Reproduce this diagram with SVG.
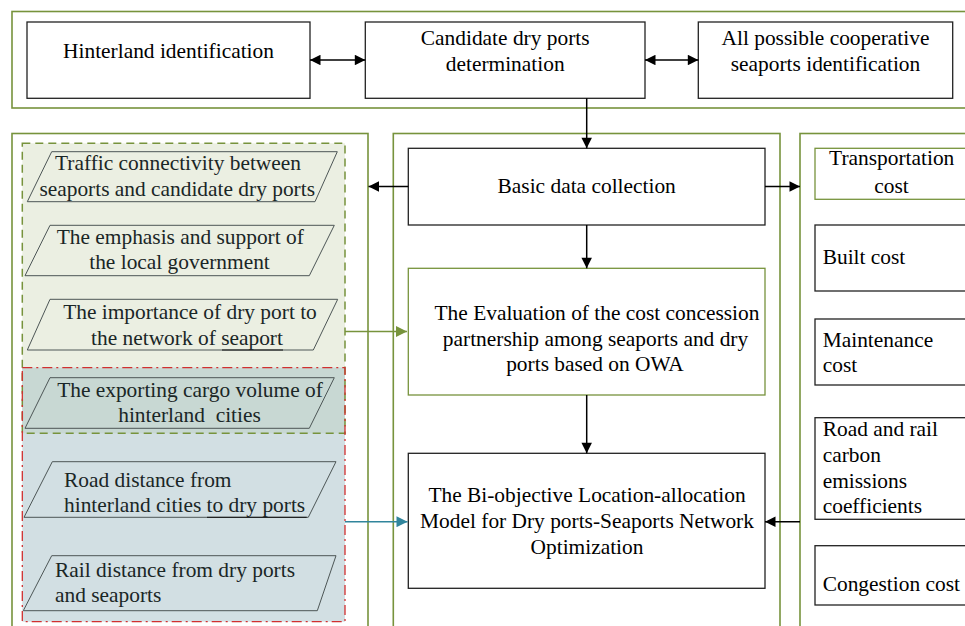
<svg xmlns="http://www.w3.org/2000/svg" width="965" height="626" viewBox="0 0 965 626">
<style>
text{font-family:"Liberation Serif","Times New Roman",serif;font-size:21.4px;fill:#000}
.c{text-anchor:middle}
.pt{fill:#1a2626}
.frame{fill:none;stroke:#77933c;stroke-width:1.6}
.box{fill:#fff;stroke:#222;stroke-width:1.3}
.gbox{fill:#fff;stroke:#77933c;stroke-width:1.3}
.para{fill:none;stroke:#4d5656;stroke-width:1}
.ln{fill:none;stroke:#000;stroke-width:1.5}
</style>
<defs>
<marker id="ab" viewBox="0 0 10 10" refX="10" refY="5" markerWidth="15" markerHeight="10.5" markerUnits="userSpaceOnUse" orient="auto-start-reverse"><path d="M0,0L10,5L0,10z" fill="#000"/></marker>
<marker id="ag" viewBox="0 0 10 10" refX="10" refY="5" markerWidth="16" markerHeight="11" markerUnits="userSpaceOnUse" orient="auto"><path d="M0,0L10,5L0,10z" fill="#77933c"/></marker>
<marker id="at" viewBox="0 0 10 10" refX="10" refY="5" markerWidth="16" markerHeight="11" markerUnits="userSpaceOnUse" orient="auto"><path d="M0,0L10,5L0,10z" fill="#31859c"/></marker>
</defs>
<rect width="965" height="626" fill="#fff"/>

<!-- frames -->
<g id="frames">
<rect class="frame" x="12" y="11.5" width="960" height="96.5"/>
<rect class="frame" x="12" y="133.5" width="356" height="500"/>
<rect class="frame" x="393.3" y="133.5" width="386.7" height="500"/>
<rect class="frame" x="800" y="133.5" width="180" height="500"/>
</g>

<!-- left regions -->
<g id="regions">
<rect x="22.3" y="143.3" width="322.7" height="290" fill="#ebefe2"/>
<rect x="22.3" y="367.7" width="322.7" height="254" fill="#d2dfe3"/>
<rect x="22.3" y="367.7" width="322.7" height="65.6" fill="#c8d8d3"/>
<rect x="22.3" y="143.3" width="322.7" height="290" fill="none" stroke="#77933c" stroke-width="1.5" stroke-dasharray="8,5"/>
<rect x="22.3" y="367.7" width="322.7" height="254" fill="none" stroke="#d03030" stroke-width="1.3" stroke-dasharray="10,4,2,4"/>
</g>

<g id="n-hinterland">
<rect class="box" x="27" y="22" width="283" height="76.3"/>
<text class="c" x="168.5" y="58.3">Hinterland identification</text>
</g>
<g id="n-candidate">
<rect class="box" x="365.3" y="22" width="279.7" height="76.3"/>
<text class="c" x="505.2" y="44.5">Candidate dry ports</text>
<text class="c" x="505.2" y="70.5">determination</text>
</g>
<g id="n-seaports">
<rect class="box" x="698.3" y="22" width="254.4" height="76.3"/>
<text class="c" x="825.5" y="45">All possible cooperative</text>
<text class="c" x="825.5" y="70.7">seaports identification</text>
</g>

<g id="n-basic">
<rect class="box" x="408.3" y="148.3" width="356.7" height="76.7"/>
<text class="c" x="586.7" y="193">Basic data collection</text>
</g>
<g id="n-evaluation">
<rect class="gbox" x="408.3" y="268.3" width="356.7" height="126.7"/>
<text class="c" x="597" y="320">The Evaluation of the cost concession</text>
<text class="c" x="595.5" y="345.7">partnership among seaports and dry</text>
<text class="c" x="595" y="371">ports based on OWA</text>
</g>
<g id="n-model">
<rect class="box" x="408.3" y="453.3" width="356.7" height="135"/>
<text class="c" x="587" y="502">The Bi-objective Location-allocation</text>
<text class="c" x="587" y="528">Model for Dry ports-Seaports Network</text>
<text class="c" x="587" y="553.5">Optimization</text>
</g>

<!-- left parallelograms -->
<g id="n-traffic">
<polygon class="para" points="51.7,151.7 337.3,151.7 315,201.7 27.3,201.7"/>
<text class="c pt" x="178" y="170">Traffic connectivity between</text>
<text class="c pt" x="177.2" y="195.5">seaports and candidate dry ports</text>
</g>
<g id="n-emphasis">
<polygon class="para" points="50,225.3 334.3,225.3 309.3,275.7 25,275.7"/>
<text class="c pt" x="180.3" y="244">The emphasis and support of</text>
<text class="c pt" x="179.5" y="269">the local government</text>
</g>
<g id="n-importance">
<polygon class="para" points="50,299.3 337.7,299.3 313.3,350 27.3,350"/>
<line x1="222" y1="350" x2="283" y2="350" stroke="#111" stroke-width="1"/>
<text class="c pt" x="190" y="319.3">The importance of dry port to</text>
<text class="c pt" x="187" y="345">the network of seaport</text>
</g>
<g id="n-exporting">
<polygon class="para" points="50,377.7 334.3,377.7 309.3,428.3 25,428.3"/>
<text class="c pt" x="190" y="396.7">The exporting cargo volume of</text>
<text class="c pt" x="189.5" y="421.7" style="white-space:pre">hinterland  cities</text>
</g>
<g id="n-road">
<polygon class="para" points="52.3,461.7 336,461.7 308.3,517.3 24,517.3"/>
<line x1="207" y1="517.3" x2="306.7" y2="517.3" stroke="#111" stroke-width="1"/>
<text class="pt" x="64" y="486.7">Road distance from</text>
<text class="pt" x="64" y="511.7">hinterland cities to dry ports</text>
</g>
<g id="n-rail">
<polygon class="para" points="51.7,555.7 336,555.7 317.3,610.7 23.3,610.7"/>
<text class="pt" x="55" y="577">Rail distance from dry ports</text>
<text class="pt" x="55" y="602">and seaports</text>
</g>

<!-- right boxes -->
<g id="n-transport">
<rect class="gbox" x="815" y="148.3" width="160" height="51"/>
<text class="c" x="891.7" y="165">Transportation</text>
<text class="c" x="891.5" y="192.7">cost</text>
</g>
<g id="n-built">
<rect class="box" x="815" y="225" width="160" height="66"/>
<text x="822.7" y="264.3">Built cost</text>
</g>
<g id="n-maintenance">
<rect class="box" x="815" y="319" width="160" height="66"/>
<text x="822.7" y="346.7">Maintenance</text>
<text x="822.7" y="371.7">cost</text>
</g>
<g id="n-carbon">
<rect class="box" x="815" y="417.7" width="160" height="101.6"/>
<text x="822.7" y="436">Road and rail</text>
<text x="822.7" y="462">carbon</text>
<text x="822.7" y="488">emissions</text>
<text x="822.7" y="513">coefficients</text>
</g>
<g id="n-congestion">
<rect class="box" x="815" y="545.7" width="160" height="59.3"/>
<text x="822.7" y="591">Congestion cost</text>
</g>

<!-- connectors -->
<g id="connectors">
<line class="ln" x1="310" y1="60" x2="365.3" y2="60" marker-start="url(#ab)" marker-end="url(#ab)"/>
<line class="ln" x1="645" y1="60" x2="698.3" y2="60" marker-start="url(#ab)" marker-end="url(#ab)"/>
<line class="ln" x1="586.7" y1="98.3" x2="586.7" y2="148.3" marker-end="url(#ab)"/>
<line class="ln" x1="408.3" y1="186.5" x2="368.5" y2="186.5" marker-end="url(#ab)"/>
<line class="ln" x1="765" y1="186.5" x2="800" y2="186.5" marker-end="url(#ab)"/>
<line class="ln" x1="586.7" y1="225" x2="586.7" y2="268.3" marker-end="url(#ab)"/>
<line class="ln" x1="586.7" y1="395" x2="586.7" y2="453.3" marker-end="url(#ab)"/>
<line class="ln" x1="800" y1="521.7" x2="765" y2="521.7" marker-end="url(#ab)"/>
<line x1="345" y1="331.5" x2="407" y2="331.5" stroke="#77933c" stroke-width="1.6" marker-end="url(#ag)"/>
<line x1="345" y1="521.7" x2="407.5" y2="521.7" stroke="#31859c" stroke-width="1.6" marker-end="url(#at)"/>
</g>
</svg>
